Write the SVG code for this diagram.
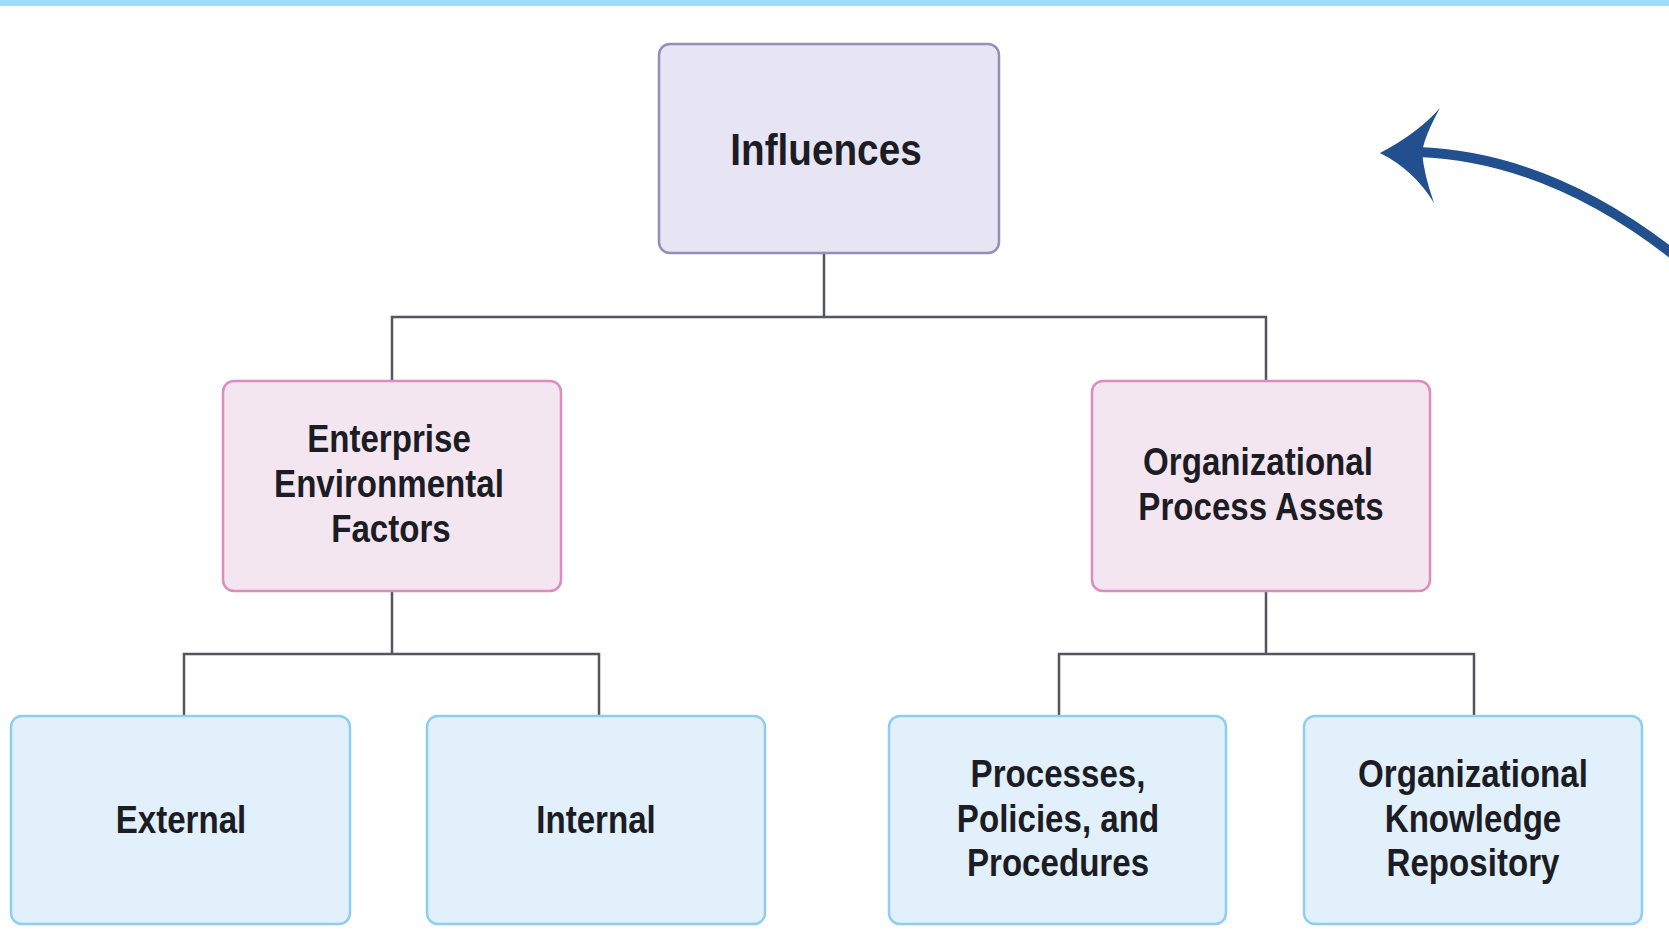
<svg xmlns="http://www.w3.org/2000/svg" width="1669" height="945" viewBox="0 0 1669 945">
<style>
.t{font-family:"Liberation Sans",Arial,sans-serif;font-weight:bold;fill:#1c1c24;text-anchor:middle;font-size:38.5px}
.big{font-size:45px}
.top{fill:#E7E5F3;stroke:#958FB8;stroke-width:2.5}
.mid{fill:#F4E6F1;stroke:#DA8DBE;stroke-width:2.5}
.bot{fill:#E1F0FA;stroke:#8ECEEE;stroke-width:2.5}
.c{fill:none;stroke:#55555E;stroke-width:2.5}
</style>
<rect x="0" y="0" width="1669" height="945" fill="#ffffff"/>
<rect x="0" y="0" width="1669" height="6" fill="#9BDDFA"/>
<g id="connectors">
<path class="c" d="M824 253V317M392 380V317H1266V380"/>
<path class="c" d="M392 591V654M184 716V654H599V716"/>
<path class="c" d="M1266 591V654M1059 716V654H1474V716"/>
</g>
<g id="influences">
<rect class="top" x="659" y="44" width="340" height="209" rx="11"/>
<text class="t big" transform="translate(826,165) scale(0.86,1)">Influences</text>
</g>
<g id="eef">
<rect class="mid" x="223" y="381" width="338" height="210" rx="11"/>
<text class="t" transform="translate(389,452) scale(0.86,1)">Enterprise</text>
<text class="t" transform="translate(389,497) scale(0.86,1)">Environmental</text>
<text class="t" transform="translate(391,542) scale(0.86,1)">Factors</text>
</g>
<g id="opa">
<rect class="mid" x="1092" y="381" width="338" height="210" rx="11"/>
<text class="t" transform="translate(1258,475) scale(0.86,1)">Organizational</text>
<text class="t" transform="translate(1261,520) scale(0.86,1)">Process Assets</text>
</g>
<g id="external">
<rect class="bot" x="11" y="716" width="339" height="208" rx="11"/>
<text class="t" transform="translate(181,833) scale(0.86,1)">External</text>
</g>
<g id="internal">
<rect class="bot" x="427" y="716" width="338" height="208" rx="11"/>
<text class="t" transform="translate(596,833) scale(0.86,1)">Internal</text>
</g>
<g id="processes">
<rect class="bot" x="889" y="716" width="337" height="208" rx="11"/>
<text class="t" transform="translate(1058,787) scale(0.86,1)">Processes,</text>
<text class="t" transform="translate(1058,832) scale(0.86,1)">Policies, and</text>
<text class="t" transform="translate(1058,876) scale(0.86,1)">Procedures</text>
</g>
<g id="okr">
<rect class="bot" x="1304" y="716" width="338" height="208" rx="11"/>
<text class="t" transform="translate(1473,787) scale(0.86,1)">Organizational</text>
<text class="t" transform="translate(1473,832) scale(0.86,1)">Knowledge</text>
<text class="t" transform="translate(1473,876) scale(0.86,1)">Repository</text>
</g>
<g id="arrow" fill="#22508F">
<path d="M1418 152 C1500 155 1592 186 1690 268" fill="none" stroke="#22508F" stroke-width="10"/>
<path d="M1380 153 Q1418 133 1440 108 Q1425 135 1422 152 Q1424 175 1434 203 Q1414 170 1380 153 Z"/>
</g>
</svg>
